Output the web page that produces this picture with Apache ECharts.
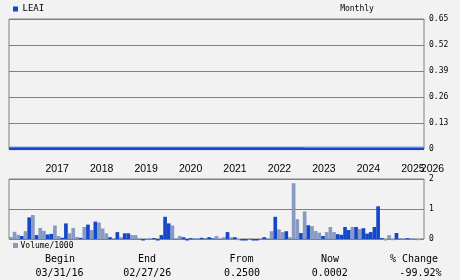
<!DOCTYPE html>
<html><head><meta charset="utf-8">
<script src="https://cdn.jsdelivr.net/npm/echarts@6/dist/echarts.min.js"></script>
<style>html,body{margin:0;padding:0;background:#f2f2f2}#c{width:460px;height:280px}</style>
</head><body><div id="c"></div>
<script>
// Monthly categories (index based, 113 monthly bars)
const months = [];
for (let i = 0; i < 113; i++) {
  const y = 2015 + Math.floor((11 + i) / 12);
  const m = ((11 + i) % 12) + 1;
  months.push(y + '-' + (m < 10 ? '0' + m : m));
}
// year tick labels and the category index they sit on
const yearLabels = ['2017','2018','2019','2020','2021','2022','2023','2024','2025'];
const yearLabelIndex = [13,25,37,49,61,73,85,97,109];
const endLabel = '2026';
const endLabelIndex = 112;

// LEAI monthly close (flat near zero on this scale)
const price = [0.0006,0.0006,0.0006,0.0006,0.0006,0.0006,0.0006,0.0006,0.0006,0.0006,
0.0006,0.0006,0.0006,0.0006,0.0006,0.0006,0.0006,0.0006,0.0006,0.0006,
0.0005,0.0005,0.0005,0.0005,0.0005,0.0005,0.0005,0.0005,0.0005,0.0005,
0.0005,0.0005,0.0005,0.0005,0.0005,0.0005,0.0005,0.0005,0.0005,0.0005,
0.0005,0.0005,0.0005,0.0005,0.0005,0.0005,0.0005,0.0005,0.0005,0.0005,
0.0004,0.0004,0.0004,0.0004,0.0004,0.0004,0.0004,0.0004,0.0004,0.0004,
0.0004,0.0004,0.0004,0.0004,0.0004,0.0004,0.0004,0.0004,0.0004,0.0004,
0.0004,0.0004,0.0004,0.0004,0.0004,0.0004,0.0004,0.0004,0.0004,0.0004,
0.0003,0.0003,0.0003,0.0003,0.0003,0.0003,0.0003,0.0003,0.0003,0.0003,
0.0003,0.0003,0.0003,0.0003,0.0003,0.0003,0.0003,0.0003,0.0003,0.0003,
0.0002,0.0002,0.0002,0.0002,0.0002,0.0002,0.0002,0.0002,0.0002,0.0002,
0.0002,0.0002,0.0002];

// Volume / 1000
const volume = [0.07,0.24,0.14,0.10,0.26,0.72,0.80,0.13,0.37,0.27,
0.15,0.17,0.45,0.10,0.04,0.52,0.19,0.37,0.07,0.04,
0.40,0.48,0.30,0.58,0.55,0.35,0.19,0.06,0.02,0.23,
0.06,0.19,0.19,0.13,0.13,0.02,-0.05,0.01,0.02,0.03,
-0.05,0.13,0.74,0.52,0.45,0.02,0.10,0.06,-0.05,0.03,
0.03,0.03,0.04,0.03,0.06,0.02,0.10,0.02,0.06,0.23,
0.06,0.06,-0.04,-0.05,-0.05,0.02,-0.05,-0.05,0.02,0.06,
0.02,0.26,0.74,0.32,0.23,0.26,0.06,1.86,0.66,0.20,
0.92,0.46,0.43,0.27,0.21,0.10,0.23,0.40,0.23,0.16,
0.14,0.40,0.30,0.40,0.40,0.33,0.36,0.18,0.23,0.40,
1.09,0.03,-0.05,0.13,-0.04,0.20,0.03,0.02,0.03,0.02,
0.02,-0.04,0.01];
// 1 = up month (dark), 0 = down month (light)
const volUp = [0,0,0,1,0,1,0,1,0,0,
1,1,0,0,1,1,0,0,0,1,
0,1,0,1,0,0,0,1,0,1,
0,1,1,0,0,0,1,0,0,1,
1,1,1,1,0,0,0,1,1,1,
0,0,1,0,1,1,0,0,0,1,
0,1,0,1,1,0,1,1,0,1,
0,0,1,0,0,1,0,0,0,1,
0,1,0,0,0,1,0,0,0,1,
1,1,1,0,1,0,1,1,1,1,
1,1,0,0,0,1,0,0,1,0,
0,0,0];

const DARK = '#1446c8', LIGHT = '#8899c4', GRIDC = '#808080';
const mono = 'DejaVu Sans Mono';

const chart = echarts.init(document.getElementById('c'), null, {renderer: 'canvas'});
chart.setOption({
  backgroundColor: '#f2f2f2',
  animation: false,
  grid: [
    {left: 9, right: 36, top: 19, bottom: 131, show: true, borderColor: GRIDC, borderWidth: 1, backgroundColor: 'transparent'},
    {left: 9, right: 36, top: 179, bottom: 41, show: true, borderColor: GRIDC, borderWidth: 1, backgroundColor: 'transparent'}
  ],
  xAxis: [
    {type: 'category', gridIndex: 0, data: months, boundaryGap: false,
     axisLine: {show: false}, axisTick: {show: false}, splitLine: {show: false},
     axisLabel: {
       margin: 15, color: '#000', fontFamily: 'Liberation Sans', fontSize: 10.5,
       interval: (idx) => yearLabelIndex.indexOf(idx) >= 0,
       formatter: (v, idx) => {
         const k = yearLabelIndex.indexOf(idx);
         return k < 0 ? '' : yearLabels[k];
       }
     }},
    {type: 'category', gridIndex: 1, data: months, boundaryGap: true,
     axisLine: {show: false}, axisTick: {show: false}, axisLabel: {show: false}, splitLine: {show: false}},
    {type: 'category', gridIndex: 0, position: 'bottom', data: months, boundaryGap: false,
     axisLine: {show: false}, axisTick: {show: false}, splitLine: {show: false},
     axisLabel: {
       margin: 15, color: '#000', fontFamily: 'Liberation Sans', fontSize: 10.5,
       showMaxLabel: true,
       interval: (idx) => idx === endLabelIndex,
       formatter: (v, idx) => idx === endLabelIndex ? '{e|' + endLabel + '}' : '',
       rich: {e: {fontFamily: 'Liberation Sans', fontSize: 10.5, color: '#000', padding: [0, 0, 0, 17]}}
     }}
  ],
  yAxis: [
    {type: 'value', gridIndex: 0, position: 'right', min: 0, max: 0.65, interval: 0.13,
     axisLine: {show: false}, axisTick: {show: false},
     splitLine: {show: true, lineStyle: {color: GRIDC, width: 1}},
     axisLabel: {margin: 5, color: '#000', fontFamily: mono, fontSize: 8, padding: [4, 0, 0, 0],
       formatter: (v) => v === 0 ? '0' : v.toFixed(2)}},
    {type: 'value', gridIndex: 1, position: 'right', min: 0, max: 2, interval: 1,
     axisLine: {show: false}, axisTick: {show: false},
     splitLine: {show: true, lineStyle: {color: GRIDC, width: 1}},
     axisLabel: {margin: 5, color: '#000', fontFamily: mono, fontSize: 8, padding: [3, 0, 0, 0]}}
  ],
  series: [
    {name: 'LEAI', type: 'line', xAxisIndex: 0, yAxisIndex: 0, data: price,
     showSymbol: false, symbol: 'none', z: 5,
     lineStyle: {color: DARK, width: 2.6, shadowColor: '#7fa0e8', shadowBlur: 0, shadowOffsetY: -1.2}},
    {name: 'Volume/1000', type: 'bar', xAxisIndex: 1, yAxisIndex: 1, clip: false,
     barCategoryGap: 0, barGap: 0,
     data: volume.map((v, i) => ({value: v, itemStyle: {color: volUp[i] ? DARK : LIGHT}})),
     itemStyle: {color: LIGHT}},
    {type: 'line', xAxisIndex: 2, yAxisIndex: 0, data: [], silent: true}
  ],
  graphic: [
    {type: 'rect', shape: {x: 13, y: 6.5, width: 5, height: 5}, style: {fill: DARK}},
    {type: 'text', x: 22.5, y: 9, style: {text: 'LEAI', fill: '#000', font: '9px "DejaVu Sans Mono"', textVerticalAlign: 'middle'}},
    {type: 'text', x: 357, y: 9, style: {text: 'Monthly', fill: '#000', font: '8px "DejaVu Sans Mono"', textAlign: 'center', textVerticalAlign: 'middle'}},
    {type: 'rect', shape: {x: 13, y: 243, width: 5, height: 5}, style: {fill: LIGHT}},
    {type: 'text', x: 20.5, y: 245.5, style: {text: 'Volume/1000', fill: '#000', font: '8px "DejaVu Sans Mono"', textVerticalAlign: 'middle'}},
    {type: 'text', x: 60, y: 259.5, style: {text: 'Begin', fill: '#000', font: '10px "DejaVu Sans Mono"', textAlign: 'center', textVerticalAlign: 'middle'}},
    {type: 'text', x: 147, y: 259.5, style: {text: 'End', fill: '#000', font: '10px "DejaVu Sans Mono"', textAlign: 'center', textVerticalAlign: 'middle'}},
    {type: 'text', x: 241.5, y: 259.5, style: {text: 'From', fill: '#000', font: '10px "DejaVu Sans Mono"', textAlign: 'center', textVerticalAlign: 'middle'}},
    {type: 'text', x: 330, y: 259.5, style: {text: 'Now', fill: '#000', font: '10px "DejaVu Sans Mono"', textAlign: 'center', textVerticalAlign: 'middle'}},
    {type: 'text', x: 414, y: 259.5, style: {text: '% Change', fill: '#000', font: '10px "DejaVu Sans Mono"', textAlign: 'center', textVerticalAlign: 'middle'}},
    {type: 'text', x: 59.5, y: 273.5, style: {text: '03/31/16', fill: '#000', font: '10px "DejaVu Sans Mono"', textAlign: 'center', textVerticalAlign: 'middle'}},
    {type: 'text', x: 147.3, y: 273.5, style: {text: '02/27/26', fill: '#000', font: '10px "DejaVu Sans Mono"', textAlign: 'center', textVerticalAlign: 'middle'}},
    {type: 'text', x: 242, y: 273.5, style: {text: '0.2500', fill: '#000', font: '10px "DejaVu Sans Mono"', textAlign: 'center', textVerticalAlign: 'middle'}},
    {type: 'text', x: 329.8, y: 273.5, style: {text: '0.0002', fill: '#000', font: '10px "DejaVu Sans Mono"', textAlign: 'center', textVerticalAlign: 'middle'}},
    {type: 'text', x: 441.5, y: 273.5, style: {text: '-99.92%', fill: '#000', font: '10px "DejaVu Sans Mono"', textAlign: 'right', textVerticalAlign: 'middle'}}
  ]
});
</script>
</body></html>
